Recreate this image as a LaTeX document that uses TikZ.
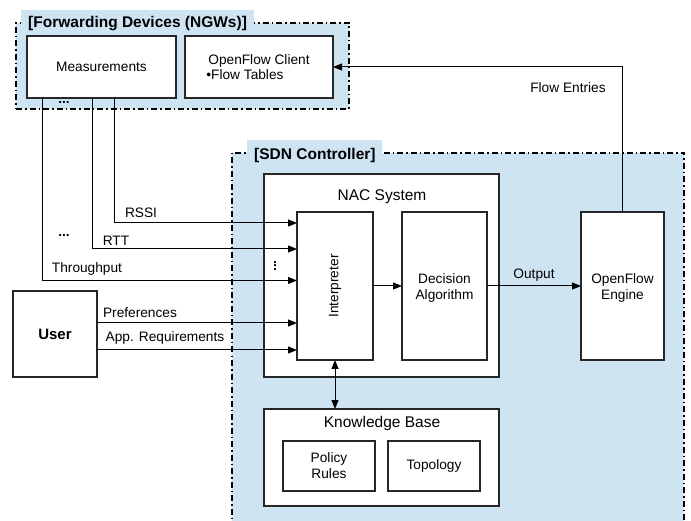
\documentclass[tikz,border=0pt]{standalone}
\usepackage{fontspec}
\setmainfont{Liberation Sans}
\usetikzlibrary{arrows.meta,calc}
\definecolor{regionblue}{RGB}{206,228,242}
\begin{document}
\begin{tikzpicture}[x=1pt,y=-1pt,
  box/.style={draw=black!85, line width=1.1pt, fill=white, inner sep=0pt, outer sep=0pt, align=center, font=\fontsize{13.7}{16}\selectfont},
  region/.style={fill=regionblue, draw=black, line width=1.1pt, dash pattern=on 6pt off 3pt on 1.5pt off 3pt, inner sep=0pt, outer sep=0pt},
  tabbox/.style={fill=regionblue, inner sep=0pt, outer sep=0pt},
  arr/.style={draw=black, line width=1pt, -{Triangle[length=9pt,width=7pt]}},
  lbl/.style={font=\fontsize{13.7}{16}\selectfont, inner sep=0pt},
  big/.style={font=\fontsize{15.5}{18}\selectfont, inner sep=0pt},
  ttl/.style={font=\fontsize{15.5}{18}\bfseries\selectfont, inner sep=0pt}]
\useasboundingbox (0,0) rectangle (691,521);

% regions
\node[region, minimum width=333pt, minimum height=86pt] (fwd) at (182.5,66) {};
\node[tabbox, minimum width=233pt, minimum height=17pt] (fwdtab) at (137.5,18.5) {};
\node[ttl, anchor=base west] (fwdttl) at (28,28) {[Forwarding Devices (NGWs)]};

\node[region, minimum width=452pt, minimum height=374pt] (sdn) at (458,340) {};
\node[tabbox, minimum width=135pt, minimum height=17pt] (sdntab) at (314.5,148.5) {};
\node[ttl, anchor=base west] (sdnttl) at (254,159.5) {[SDN Controller]};

% forwarding device boxes
\node[box, minimum width=149pt, minimum height=62pt] (meas) at (101.5,67) {Measurements};
\node[box, minimum width=148pt, minimum height=62pt, align=left] (ofc) at (259,67) {OpenFlow Client\\[-1pt]\hspace*{-2pt}•Flow Tables};
\node[lbl, font=\fontsize{13.7}{16}\bfseries\selectfont] (mdots) at (64,102) {...};

% user
\node[box, minimum width=84pt, minimum height=86pt, font=\fontsize{15}{18}\bfseries\selectfont] (user) at (55,334) {User};

% NAC system
\node[box, minimum width=235pt, minimum height=203pt] (nac) at (381.5,275.5) {};
\node[big] (nacl) at (382,197) {NAC System};
\node[box, minimum width=76pt, minimum height=148pt] (interp) at (335,286) {};
\node[lbl, rotate=90] (interpl) at (interp.center) {Interpreter};
\node[box, minimum width=85pt, minimum height=148pt] (dec) at (444.5,286) {};
\node[lbl, align=center, font=\fontsize{13.7}{16}\selectfont] (decl) at (444.5,287.5) {Decision\\Algorithm};

% OpenFlow engine
\node[box, minimum width=83pt, minimum height=148pt] (ofe) at (622.5,286) {};
\node[lbl, align=center, font=\fontsize{13.7}{16}\selectfont] (ofel) at (622.5,287.5) {OpenFlow\\Engine};

% knowledge base
\node[box, minimum width=235pt, minimum height=97pt] (kb) at (381.5,457.5) {};
\node[big] (kbl) at (382,423) {Knowledge Base};
\node[box, minimum width=92pt, minimum height=50pt] (pol) at (329,466) {Policy\\Rules};
\node[box, minimum width=92pt, minimum height=50pt] (topo) at (434,466) {Topology};

% measurement connectors
\draw[arr] ($(meas.south west)+(87,0)$) |- ($(interp.north west)+(0,11)$);
\draw[arr] ($(meas.south west)+(65,0)$) |- ($(interp.north west)+(0,37)$);
\draw[arr] ($(meas.south west)+(15,0)$) |- ($(interp.north west)+(0,68.5)$);
\node[lbl] (rssil) at (141,213) {RSSI};
\node[lbl] (rttl) at (116,241) {RTT};
\node[lbl] (thrl) at (87,269) {Throughput};
\node[lbl, font=\fontsize{13.7}{16}\bfseries\selectfont] (ldots) at (64,235) {...};
\node[lbl, rotate=90, font=\fontsize{13.7}{16}\bfseries\selectfont] (vdots) at (275,266) {...};

% user connectors
\coordinate (up1) at ($(user.north east)+(0,32)$);
\coordinate (up2) at ($(user.north east)+(0,59)$);
\draw[arr] (up1) -- (up1 -| interp.west);
\draw[arr] (up2) -- (up2 -| interp.west);
\node[lbl] (prefl) at (140,313) {Preferences};
\node[lbl] (appl) at (165,338) {App. Requirements};

% internal connectors
\draw[arr] (interp.east) -- (dec.west);
\draw[arr] (dec.east) -- node[lbl, above=4pt] (outl) {Output} (ofe.west);
\draw[arr] (ofe.north) |- (ofc.east);
\node[lbl] (flowl) at (568,88) {Flow Entries};
\draw[line width=1pt, {Triangle[length=9pt,width=7pt]}-{Triangle[length=9pt,width=7pt]}] (interp.south) -- (interp.south |- kb.north);
\end{tikzpicture}
\end{document}
